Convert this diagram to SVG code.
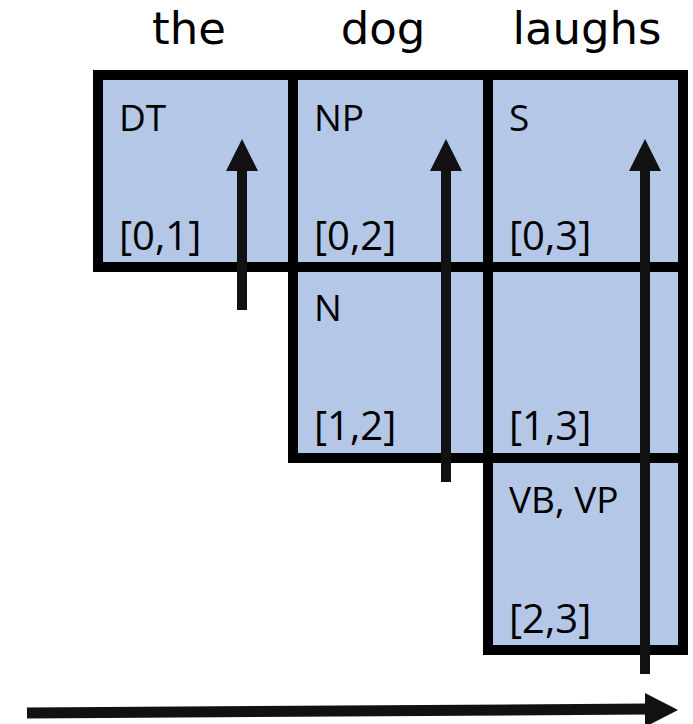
<svg xmlns="http://www.w3.org/2000/svg" width="693" height="724" viewBox="0 0 693 724">
  <style>
    .word { font-family: "DejaVu Sans", Verdana, sans-serif; font-size: 45px; fill: #000; text-anchor: middle; }
    .cell rect { fill: #b4c7e7; stroke: #000; stroke-width: 10; }
    .lbl { font-family: "Open Sans", "Noto Sans", sans-serif; font-size: 37px; fill: #000; }
    .span { font-family: "Open Sans", "Noto Sans", sans-serif; font-size: 40px; fill: #000; }
    .shaft { stroke: #111; stroke-width: 10; fill: none; }
    .head { fill: #111; }
  </style>

  <!-- sentence tokens -->
  <g id="tokens">
    <text class="word" x="189" y="44">the</text>
    <text class="word" x="383" y="44">dog</text>
    <text class="word" x="587" y="44">laughs</text>
  </g>

  <!-- chart cells: columns at x=98/293/488, rows at y=75/267/458 -->
  <g id="cell-0-1" class="cell">
    <rect x="98" y="75" width="195" height="192"/>
    <text class="lbl" x="119" y="131">DT</text>
    <text class="span" x="119" y="250">[0,1]</text>
  </g>
  <g id="cell-0-2" class="cell">
    <rect x="293" y="75" width="195" height="192"/>
    <text class="lbl" x="314" y="131">NP</text>
    <text class="span" x="314" y="250">[0,2]</text>
  </g>
  <g id="cell-0-3" class="cell">
    <rect x="488" y="75" width="195" height="192"/>
    <text class="lbl" x="509" y="131">S</text>
    <text class="span" x="509" y="250">[0,3]</text>
  </g>
  <g id="cell-1-2" class="cell">
    <rect x="293" y="267" width="195" height="191"/>
    <text class="lbl" x="314" y="321">N</text>
    <text class="span" x="314" y="440">[1,2]</text>
  </g>
  <g id="cell-1-3" class="cell">
    <rect x="488" y="267" width="195" height="191"/>
    <text class="span" x="509" y="440">[1,3]</text>
  </g>
  <g id="cell-2-3" class="cell">
    <rect x="488" y="458" width="195" height="192"/>
    <text class="lbl" x="509" y="513">VB, VP</text>
    <text class="span" x="509" y="633">[2,3]</text>
  </g>

  <!-- connectors: upward span arrows and the left-to-right arrow -->
  <g id="connectors">
    <line class="shaft" x1="242" y1="310" x2="242" y2="168"/>
    <polygon class="head" points="226,171 242,139 258,171"/>

    <line class="shaft" x1="446" y1="482" x2="446" y2="168"/>
    <polygon class="head" points="430,171 446,139 462,171"/>

    <line class="shaft" x1="645" y1="674" x2="645" y2="168"/>
    <polygon class="head" points="629,171 645,139 661,171"/>

    <line x1="27" y1="713" x2="648" y2="709" stroke="#111" stroke-width="11"/>
    <polygon class="head" points="645,693 678,710 645,727"/>
  </g>
</svg>
